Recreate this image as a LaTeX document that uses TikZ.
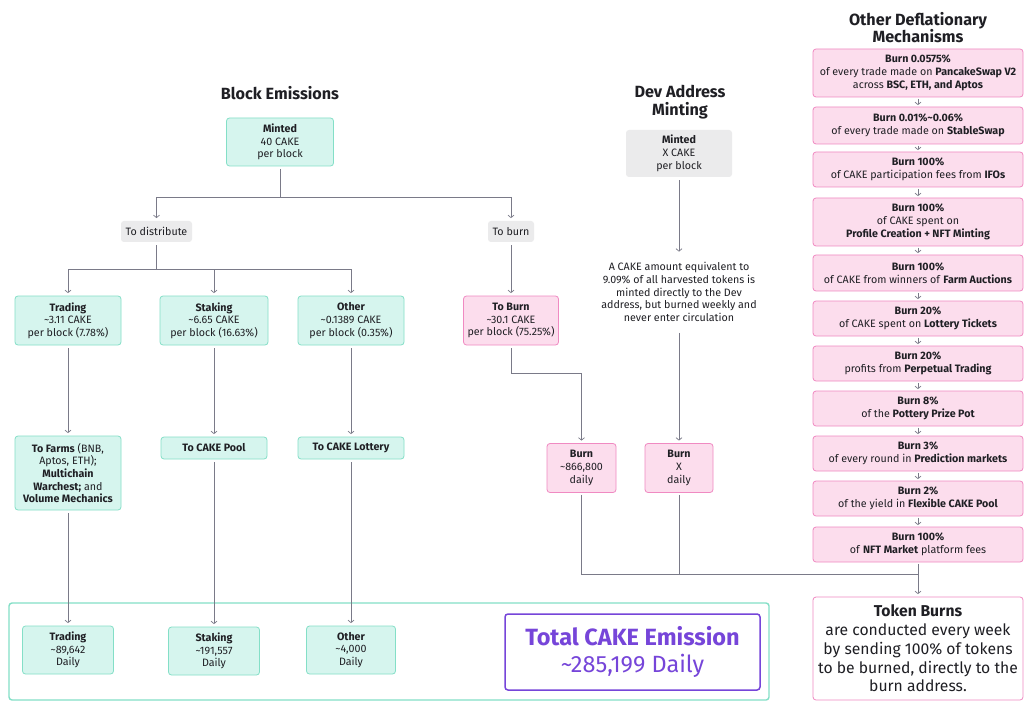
\documentclass[tikz,border=0pt]{standalone}
\usepackage{fontspec}
\setmainfont{Fira Sans}
\usetikzlibrary{arrows.meta}
\definecolor{txt}{HTML}{1F1F24}
\definecolor{mint}{HTML}{D6F5EE}
\definecolor{mintd}{HTML}{84DFC7}
\definecolor{pinkf}{HTML}{FCDDED}
\definecolor{pinkd}{HTML}{F08AC2}
\definecolor{grayf}{HTML}{EBEBEC}
\definecolor{lineg}{HTML}{7A7A88}
\definecolor{purp}{HTML}{7645D9}
\begin{document}
\begin{tikzpicture}[x=1pt,y=-1pt,
  font=\fontsize{10.7}{12.7}\selectfont, text=txt,
  box/.style={rounded corners=3pt, line width=0.8pt, align=center, inner sep=0pt},
  gbox/.style={box, draw=mintd, fill=mint},
  pbox/.style={box, draw=pinkd, fill=pinkf},
  lbl/.style={box, fill=grayf},
  ttl/.style={align=center, font=\fontsize{16.2}{17.8}\selectfont\bfseries},
  ln/.style={draw=lineg, line width=0.7pt},
  arr/.style={ln, -{Straight Barb[length=2.5pt,width=6pt]}, shorten >=2.5pt, shorten <=3pt}]
\useasboundingbox (0,0) rectangle (1024,708);
\fill[white] (0,0) rectangle (1024,708);

% ---------- Block emissions ----------
\node[ttl] (t1) at (280,93) {Block Emissions};
\node[gbox, minimum width=107, minimum height=48] (minted) at (280,142) {\textbf{Minted}\\40 CAKE\\per block};
\node[lbl, minimum width=71, minimum height=21] (dist) at (156.5,231.5) {To distribute};
\node[lbl, minimum width=46, minimum height=21] (tob) at (511,231.5) {To burn};
\coordinate (j1) at (280,197);
\coordinate (j2) at (156.5,269);
\draw[ln, shorten <=3pt] (minted.south) -- (j1);
\draw[arr, shorten <=0pt] (j1) -| (dist.north);
\draw[arr, shorten <=0pt] (j1) -| (tob.north);

\node[gbox, minimum width=106, minimum height=49] (trading) at (68,320.5) {\textbf{Trading}\\\textasciitilde3.11 CAKE\\per block (7.78\%)};
\node[gbox, minimum width=108, minimum height=49] (staking) at (214,320.5) {\textbf{Staking}\\\textasciitilde6.65 CAKE\\per block (16.63\%)};
\node[gbox, minimum width=106, minimum height=49] (other) at (351,320.5) {\textbf{Other}\\\textasciitilde0.1389 CAKE\\per block (0.35\%)};
\node[pbox, minimum width=95, minimum height=49] (tbb) at (511,320.5) {\textbf{To Burn}\\\textasciitilde30.1 CAKE\\per block (75.25\%)};
\draw[ln, shorten <=3pt] (dist.south) -- (j2);
\draw[arr, shorten <=0pt] (j2) -| (trading.north);
\draw[arr, shorten <=0pt] (j2) -| (staking.north);
\draw[arr, shorten <=0pt] (j2) -| (other.north);
\draw[arr] (tob.south) -- (tbb.north);

\node[gbox, minimum width=106, minimum height=74] (farms) at (68,473) {\textbf{To Farms} (BNB,\\Aptos, ETH);\\\textbf{Multichain}\\\textbf{Warchest;} and\\\textbf{Volume Mechanics}};
\node[gbox, minimum width=106, minimum height=22] (pool) at (214,448) {\textbf{To CAKE Pool}};
\node[gbox, minimum width=106, minimum height=22] (lottery) at (351,448) {\textbf{To CAKE Lottery}};
\draw[arr] (trading.south) -- (farms.north);
\draw[arr] (staking.south) -- (pool.north);
\draw[arr] (other.south) -- (lottery.north);

% ---------- bottom frame ----------
\node[box, draw=mintd, line width=1.4pt, minimum width=760, minimum height=97] (frame) at (389,651.5) {};
\node[gbox, minimum width=91, minimum height=48] (tradingD) at (68,650) {\textbf{Trading}\\\textasciitilde89,642\\Daily};
\node[gbox, minimum width=91, minimum height=48] (stakingD) at (214,651) {\textbf{Staking}\\\textasciitilde191,557\\Daily};
\node[gbox, minimum width=89, minimum height=48] (otherD) at (351,650) {\textbf{Other}\\\textasciitilde4,000\\Daily};
\draw[arr] (farms.south) -- (tradingD.north);
\draw[arr] (pool.south) -- (stakingD.north);
\draw[arr] (lottery.south) -- (otherD.north);
\node[box, draw=purp, line width=1.5pt, fill=white, text=purp, minimum width=255, minimum height=76, font=\fontsize{23.5}{27}\selectfont] (total) at (632.5,652) {\textbf{Total CAKE Emission}\\\textasciitilde285,199 Daily};

% ---------- Dev address ----------
\node[ttl] (t2) at (680,102) {Dev Address\\Minting};
\node[lbl, minimum width=106, minimum height=47] (devm) at (679,153.5) {\textbf{Minted}\\X CAKE\\per block};
\node[align=center, inner sep=8pt] (devt) at (679,292) {A CAKE amount equivalent to\\9.09\% of all harvested tokens is\\minted directly to the Dev\\address, but burned weekly and\\never enter circulation};
\draw[arr] (devm.south) -- (devt.north);
\node[pbox, minimum width=69, minimum height=49] (b866) at (581.5,468) {\textbf{Burn}\\\textasciitilde866,800\\daily};
\node[pbox, minimum width=68, minimum height=49] (bx) at (679,468) {\textbf{Burn}\\X\\daily};
\draw[arr] (devt.south) -- (bx.north);
\draw[arr] (tbb.south) -- ++(0,28) -| (b866.north);

% ---------- Other deflationary ----------
\node[ttl] (t3) at (918,27.5) {Other Deflationary\\Mechanisms};
\tikzset{rb/.style={pbox, minimum width=210}}
\node[rb, minimum height=48] (r1) at (918,73) {\textbf{Burn 0.0575\%}\\of every trade made on \textbf{PancakeSwap V2}\\across \textbf{BSC, ETH, and Aptos}};
\node[rb, minimum height=37] (r2) at (918,125.5) {\textbf{Burn 0.01\%\textasciitilde0.06\%}\\of every trade made on \textbf{StableSwap}};
\node[rb, minimum height=35] (r3) at (918,169.5) {\textbf{Burn 100\%}\\of CAKE participation fees from \textbf{IFOs}};
\node[rb, minimum height=48] (r4) at (918,222) {\textbf{Burn 100\%}\\of CAKE spent on\\\textbf{Profile Creation + NFT Minting}};
\node[rb, minimum height=36] (r5) at (918,273) {\textbf{Burn 100\%}\\of CAKE from winners of \textbf{Farm Auctions}};
\node[rb, minimum height=35] (r6) at (918,318.5) {\textbf{Burn 20\%}\\of CAKE spent on \textbf{Lottery Tickets}};
\node[rb, minimum height=35] (r7) at (918,363.5) {\textbf{Burn 20\%}\\profits from \textbf{Perpetual Trading}};
\node[rb, minimum height=35] (r8) at (918,408.5) {\textbf{Burn 8\%}\\of the \textbf{Pottery Prize Pot}};
\node[rb, minimum height=35] (r9) at (918,453.5) {\textbf{Burn 3\%}\\of every round in \textbf{Prediction markets}};
\node[rb, minimum height=35] (r10) at (918,498.5) {\textbf{Burn 2\%}\\of the yield in \textbf{Flexible CAKE Pool}};
\node[rb, minimum height=35] (r11) at (918,544.5) {\textbf{Burn 100\%}\\of \textbf{NFT Market} platform fees};
\foreach \a/\b in {r1/r2,r2/r3,r3/r4,r4/r5,r5/r6,r6/r7,r7/r8,r8/r9,r9/r10,r10/r11}
  \draw[arr, shorten <=1.5pt, shorten >=1.5pt] (\a.south) -- (\b.north);

\node[box, draw=pinkd, fill=white, minimum width=210, minimum height=103, font=\fontsize{15.7}{18.8}\selectfont] (tburn) at (918,648.5) {\textbf{Token Burns}\\are conducted every week\\by sending 100\% of tokens\\to be burned, directly to the\\burn address.};
\coordinate (jb) at (918,574.5);
\draw[ln, shorten <=2pt] (b866.south) |- (jb);
\draw[ln, shorten <=2pt] (bx.south) -- (bx.south |- jb);
\draw[arr, shorten <=1.5pt] (r11.south) -- (tburn.north);
\end{tikzpicture}
\end{document}
